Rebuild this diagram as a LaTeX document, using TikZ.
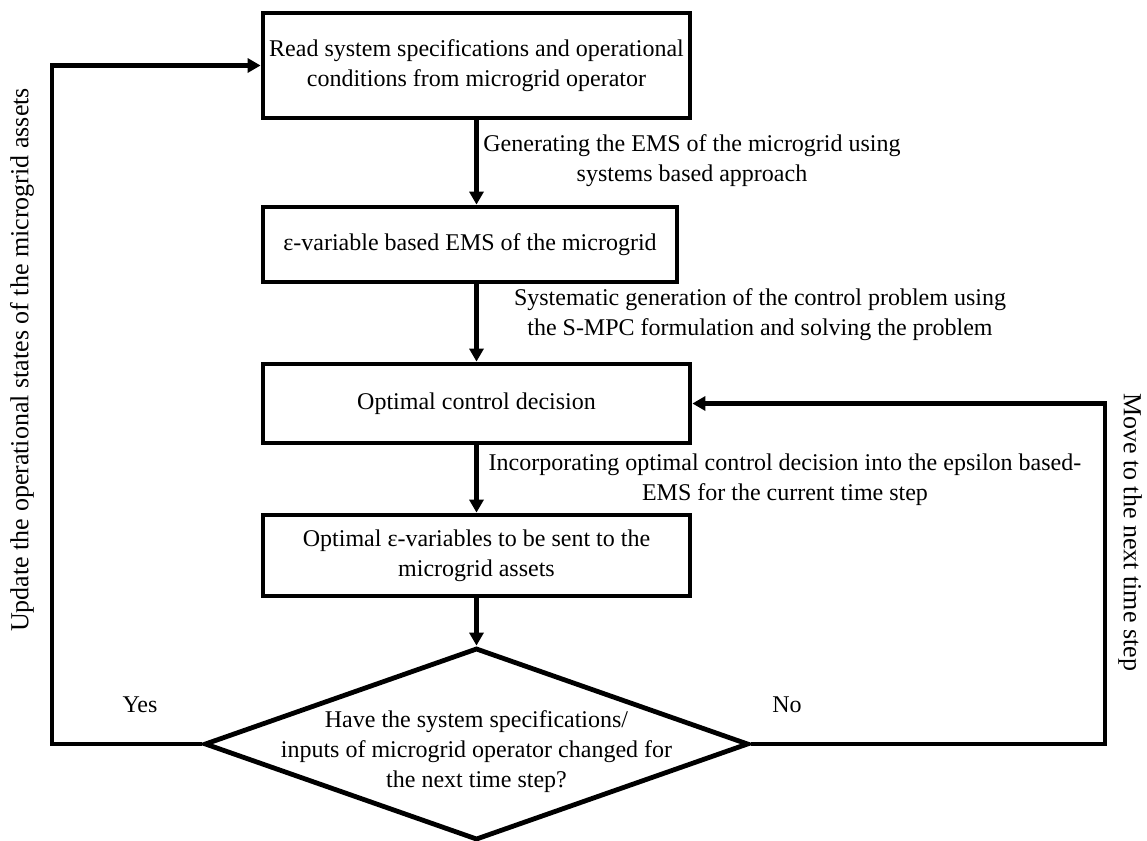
\documentclass[tikz,border=0pt]{standalone}
\usepackage{fontspec}
\setmainfont{Liberation Serif}
\usetikzlibrary{arrows.meta}
\usetikzlibrary{shapes.geometric}

\begin{document}
\begin{tikzpicture}[>={Triangle[length=6.5pt,width=7pt]},line join=miter,x=0.5pt,y=-0.5pt,
  every node/.style={font=\fontsize{12}{15}\selectfont,align=center},
  stepbox/.style={draw,line width=2.4pt,minimum width=213.5pt,inner sep=0pt},
  sidetext/.style={font=\fontsize{13}{15}\selectfont},
  flow/.style={line width=2.4pt,->},
  ]
\useasboundingbox (0,0) rectangle (1147,841);
%%
\node (node_read) at (476.5,65.5) [stepbox,minimum height=52.5pt] {Read system specifications and operational\\conditions from microgrid operator};
  \node (node_evar) at (470,244.5) [stepbox,minimum width=207pt,minimum height=37.5pt] {ε-variable based EMS of the microgrid};
  \node (node_optc) at (476.5,403.5) [stepbox,minimum height=39.5pt] {Optimal control decision};
  \node (node_opteps) at (476.5,555.5) [stepbox,minimum height=40.5pt] {Optimal ε-variables to be sent to the\\microgrid assets};
  \node (node_dec) at (476.5,744) [draw,diamond,line width=2.4pt,minimum width=272pt,minimum height=96pt,inner sep=0pt,
    label={[align=center,yshift=-4pt]center:Have the system specifications/\\inputs of microgrid operator changed for\\the next time step?}] {};
%
  \node (lbl_gen) at (692,161) {Generating the EMS of the microgrid using\\systems based approach};
  \node (lbl_sys) at (760,315) {Systematic generation of the control problem using\\the S-MPC formulation and solving the problem};
  \node (lbl_inc) at (785,480) {Incorporating optimal control decision into the epsilon based-\\EMS for the current time step};
  \node (lbl_yes) at (140,705) {Yes};
  \node (lbl_no) at (787,705) {No};
  \node (lbl_upd) at (22,360) [sidetext,rotate=90] {Update the operational states of the microgrid assets};
  \node (lbl_move) at (1130,532) [sidetext,rotate=-90] {Move to the next time step};
%
  \coordinate (c_yes) at (52,65.5);
  \coordinate (c_no) at (1105,403.5);
  \draw [flow] (node_read.south) -- (node_read.south |- node_evar.north);
  \draw [flow] (node_read.south |- node_evar.south) -- (node_optc.north);
  \draw [flow] (node_optc.south) -- (node_opteps.north);
  \draw [flow] (node_opteps.south) -- (node_dec.north);
  \draw [flow] (node_dec.west) -| (c_yes) -- (node_read.west);
  \draw [flow] (node_dec.east) -| (c_no) -- (node_optc.east);
%
\end{tikzpicture}
\end{document}
